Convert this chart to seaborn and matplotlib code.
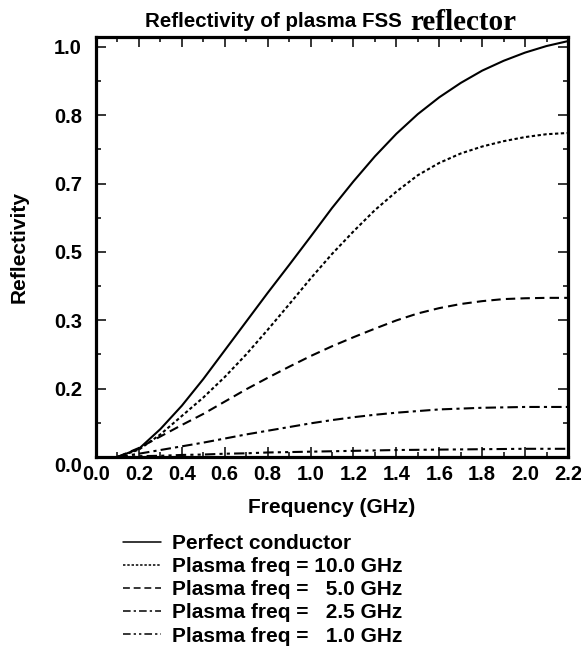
import numpy as np
import pandas as pd
import matplotlib
matplotlib.use('Agg')
import matplotlib.pyplot as plt
import matplotlib.transforms as mtrans
import seaborn as sns
from matplotlib.ticker import MultipleLocator, FixedLocator

# Data
freq = [0.1, 0.2, 0.3, 0.4, 0.5, 0.6, 0.7, 0.8, 0.9, 1.0, 1.1,
        1.2, 1.3, 1.4, 1.5, 1.6, 1.7, 1.8, 1.9, 2.0, 2.1, 2.2]
perfect = [0.0, 0.02, 0.068, 0.125, 0.19, 0.26, 0.33, 0.40, 0.468, 0.537, 0.607,
           0.672, 0.733, 0.788, 0.836, 0.877, 0.912, 0.942, 0.966, 0.986, 1.002, 1.014]
plasma_10 = [0.0, 0.018, 0.055, 0.10, 0.145, 0.195, 0.25, 0.31, 0.372, 0.435, 0.495,
             0.55, 0.602, 0.647, 0.687, 0.717, 0.74, 0.757, 0.77, 0.78, 0.787, 0.79]
plasma_5 = [0.0, 0.022, 0.05, 0.078, 0.105, 0.135, 0.165, 0.193, 0.22, 0.246, 0.27,
            0.292, 0.313, 0.333, 0.35, 0.363, 0.373, 0.38, 0.385, 0.387, 0.388, 0.388]
plasma_25 = [0.0, 0.008, 0.017, 0.026, 0.035, 0.045, 0.055, 0.064, 0.073, 0.082, 0.09,
             0.097, 0.103, 0.108, 0.112, 0.116, 0.118, 0.12, 0.121, 0.122, 0.122, 0.122]
plasma_1 = [0.0, 0.002, 0.003, 0.005, 0.006, 0.008, 0.009, 0.011, 0.012, 0.013, 0.014,
            0.015, 0.016, 0.017, 0.0175, 0.018, 0.0185, 0.019, 0.0195, 0.02, 0.02, 0.02]
labels = ['Perfect conductor',
          'Plasma freq = 10.0 GHz',
          'Plasma freq =   5.0 GHz',
          'Plasma freq =   2.5 GHz',
          'Plasma freq =   1.0 GHz']
ytick_vals = [0, 1/6, 2/6, 3/6, 4/6, 5/6, 1.0]
ytick_labels = ['0.0', '0.2', '0.3', '0.5', '0.7', '0.8', '1.0']

series = [perfect, plasma_10, plasma_5, plasma_25, plasma_1]
df = pd.concat([pd.DataFrame({'freq': freq, 'refl': s, 'case': lab})
                for s, lab in zip(series, labels)], ignore_index=True)

sns.set_style('ticks')
plt.rcParams['font.family'] = ['Liberation Sans', 'DejaVu Sans']
plt.rcParams['font.weight'] = 'bold'
plt.rcParams['text.color'] = 'black'
plt.rcParams['axes.labelcolor'] = 'black'
plt.rcParams['xtick.color'] = 'black'
plt.rcParams['ytick.color'] = 'black'

dashes = {labels[0]: '',
          labels[1]: (1.6, 1.2),
          labels[2]: (4.5, 2.5),
          labels[3]: (5, 2, 1.5, 2),
          labels[4]: (5, 2, 1.5, 2, 1.5, 2)}

fig = plt.figure(figsize=(5.81, 6.51), dpi=100)
ax = fig.add_axes([96/581, 1 - 457/651, (568-96)/581, (457-37)/651])

sns.lineplot(data=df, x='freq', y='refl', style='case', dashes=dashes,
             color='black', linewidth=1.5, ax=ax, legend=True)

ax.set_xlim(0, 2.2)
ax.set_ylim(0, 1.024)
ax.xaxis.set_major_locator(MultipleLocator(0.2))
ax.xaxis.set_minor_locator(MultipleLocator(0.1))
ax.yaxis.set_major_locator(FixedLocator(ytick_vals))
ax.yaxis.set_minor_locator(MultipleLocator(1/12))
ax.set_yticklabels(ytick_labels)
ax.set_xticklabels([f'{v:.1f}' for v in ax.get_xticks()])
ax.tick_params(which='both', direction='in', top=True, right=True,
               width=1.1, color='black', labelsize=14.5)
ax.tick_params(axis='x', pad=6)
ax.tick_params(axis='y', pad=10)
ax.tick_params(which='major', length=7)
ax.tick_params(which='minor', length=3.5)
for sp in ax.spines.values():
    sp.set_linewidth(2.3)
    sp.set_color('black')

# the 0.0 label on the y axis sits a little lower in the original
ylab0 = ax.get_yticklabels()[0]
ylab0.set_transform(ylab0.get_transform() +
                    mtrans.ScaledTranslation(0, -7/100, fig.dpi_scale_trans))

ax.set_xlabel('Frequency (GHz)', fontsize=15, fontweight='bold', labelpad=10)
ax.set_ylabel('Reflectivity', fontsize=15, fontweight='bold', labelpad=18)

# Title: sans part + serif part
fig.text(145/581, 1 - 27/651, 'Reflectivity of plasma FSS', ha='left', va='baseline',
         fontsize=14.8, fontweight='bold')
fig.text(410/581, 1 - 30/651, 'reflector', ha='left', va='baseline',
         fontsize=21, fontweight='bold', family='Liberation Serif')

leg = ax.legend(loc='upper left', bbox_to_anchor=(123/581, 1 - 534/651),
                bbox_transform=fig.transFigure, frameon=False, fontsize=15,
                handlelength=1.8, handletextpad=0.55, labelspacing=0.2,
                borderpad=0, borderaxespad=0)
for t in leg.get_texts():
    t.set_fontweight('bold')
    t.set_color('black')
for l in leg.get_lines():
    l.set_linewidth(1.1)

fig.savefig('out.png', dpi=100)
